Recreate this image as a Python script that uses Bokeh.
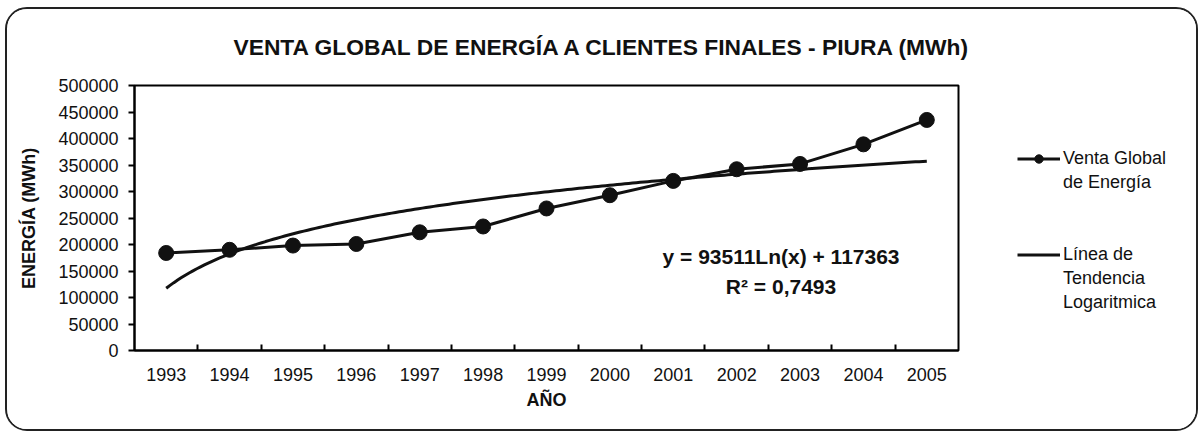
import numpy as np
from bokeh.plotting import figure
from bokeh.models import (Range1d, FixedTicker, Label, Legend, LegendItem, NumeralTickFormatter)
from bokeh.embed import file_html
from bokeh.resources import INLINE

# ---- data ----
years = ["1993", "1994", "1995", "1996", "1997", "1998", "1999",
         "2000", "2001", "2002", "2003", "2004", "2005"]
venta = [184000, 190000, 198000, 201000, 223000, 234000, 268000,
         293000, 320000, 342000, 352000, 389000, 435000]
trend_a = 93511    # coefficient of Ln(x)
trend_b = 117363   # constant
equation_text = "y = 93511Ln(x) + 117363"
r2_text = "R² = 0,7493"
title_text = "VENTA GLOBAL DE ENERGÍA A CLIENTES FINALES - PIURA (MWh)"
legend_lines_1 = ["Venta Global", "de Energía"]
legend_lines_2 = ["Línea de", "Tendencia", "Logaritmica"]
y_ticks = [0, 50000, 100000, 150000, 200000, 250000, 300000, 350000, 400000, 450000, 500000]

FONT = "Liberation Sans"

xs = list(range(1, len(years) + 1))
xt = np.linspace(1, len(years), 200)
yt = trend_a * np.log(xt) + trend_b

p = figure(frame_width=824, frame_height=265, output_backend="svg", toolbar_location=None,
           x_range=Range1d(0.5, len(years) + 0.5), y_range=Range1d(0, 500000),
           min_border_left=127, min_border_right=235,
           min_border_top=75, min_border_bottom=79)
p.xgrid.visible = False
p.ygrid.visible = False
p.outline_line_color = "black"
p.outline_line_width = 2
p.background_fill_color = "white"
p.border_fill_color = "white"
p.styles = {"border": "2px solid #222222", "border-radius": "22px", "overflow": "hidden",
            "margin-left": "5px", "margin-top": "7px", "max-width": "1193px"}

p.title.text = title_text
p.title.align = "left"
p.title.vertical_align = "top"
p.title.offset = 99
p.title.standoff = 48
p.title.text_font = FONT
p.title.text_font_size = "22.8px"
p.title.text_font_style = "bold"
p.title.text_color = "#111111"

# axes
p.xaxis.ticker = FixedTicker(ticks=xs, minor_ticks=[x + 0.5 for x in xs[:-1]])
p.xaxis.major_label_overrides = {x: y for x, y in zip(xs, years)}
p.xaxis.major_tick_in = 0
p.xaxis.major_tick_out = 0
p.xaxis.minor_tick_in = 6
p.xaxis.minor_tick_out = 0
p.xaxis.minor_tick_line_width = 2
p.xaxis.axis_label = "AÑO"
p.xaxis.major_label_standoff = 17
p.xaxis.axis_label_standoff = 6

p.yaxis.ticker = FixedTicker(ticks=y_ticks)
p.yaxis.formatter = NumeralTickFormatter(format="0")
p.yaxis.major_tick_in = 0
p.yaxis.major_tick_out = 6
p.yaxis.minor_tick_line_color = None
p.yaxis.axis_label = "ENERGÍA (MWh)"
p.yaxis.major_label_standoff = 10
p.yaxis.axis_label_standoff = 16

for ax in (p.xaxis, p.yaxis):
    ax.axis_line_width = 2
    ax.axis_line_color = "black"
    ax.major_tick_line_width = 2
    ax.major_label_text_font = FONT
    ax.major_label_text_font_size = "18px"
    ax.major_label_text_color = "#111111"
    ax.axis_label_text_font = FONT
    ax.axis_label_text_font_size = "18px"
    ax.axis_label_text_font_style = "bold"
    ax.axis_label_text_color = "#111111"

# series
r_line = p.line(xs, venta, line_color="#111111", line_width=3)
r_pts = p.scatter(xs, venta, size=15, marker="circle", fill_color="#111111", line_color="#111111")
r_trend = p.line(xt, yt, line_color="#111111", line_width=3)
r_blank = p.line([], [], line_alpha=0)

p.add_layout(Label(x=10.7, y=177000, text=equation_text, text_align="center", text_baseline="middle",
                   text_font=FONT, text_font_size="21px", text_font_style="bold", text_color="#111111"))
p.add_layout(Label(x=10.7, y=120000, text=r2_text, text_align="center", text_baseline="middle",
                   text_font=FONT, text_font_size="21px", text_font_style="bold", text_color="#111111"))

items = [LegendItem(label=legend_lines_1[0], renderers=[r_line, r_pts]),
         LegendItem(label=legend_lines_1[1], renderers=[r_blank]),
         LegendItem(label=" ", renderers=[r_blank]),
         LegendItem(label=" ", renderers=[r_blank]),
         LegendItem(label=legend_lines_2[0], renderers=[r_trend]),
         LegendItem(label=legend_lines_2[1], renderers=[r_blank]),
         LegendItem(label=legend_lines_2[2], renderers=[r_blank])]
legend = Legend(items=items, location=(59, 37), border_line_color=None, background_fill_alpha=0,
                label_text_font=FONT, label_text_font_size="18px", label_text_color="#111111",
                glyph_width=43, glyph_height=21, label_height=21, label_standoff=3,
                spacing=3, margin=0, padding=0)
p.add_layout(legend, "right")

open("out.html", "w").write(file_html(p, INLINE))
